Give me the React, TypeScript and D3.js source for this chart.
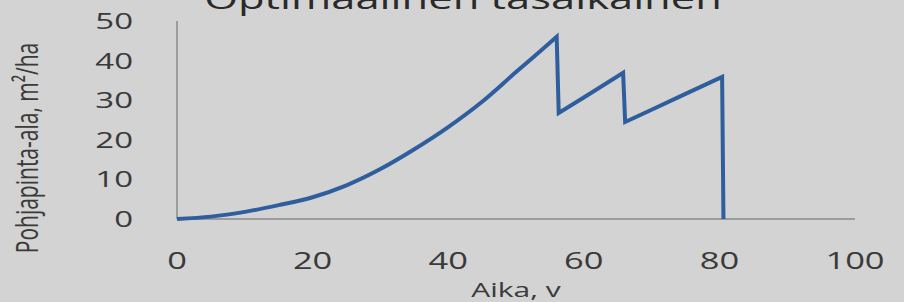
import React, { useEffect, useRef } from 'react';
import * as d3 from 'd3';

// basal area over stand age
const ages = [0, 5, 10, 15, 20, 25, 30, 35, 40, 45, 50, 55, 56, 56.3, 60, 65.8, 66.1, 70, 75, 80.4, 80.6];
const basalArea = [0, 0.6, 1.8, 3.5, 5.5, 8.5, 12.6, 17.6, 23.2, 29.6, 37.1, 44.5, 46, 26.8, 30.7, 36.9, 24.5, 27.6, 31.6, 35.9, 0];
// index of the first thinning (end of the smooth growth curve)
const firstCut = 12;

const xTicks = [0, 20, 40, 60, 80, 100];
const yTicks = [0, 10, 20, 30, 40, 50];

const title = 'Optimaalinen tasaikäinen';
const xTitle = 'Aika, v';
const yTitle = 'Pohjapinta-ala, m²/ha';

const W = 904;
const H = 302;
const STRETCH = 1.5;

export default function App() {
  const ref = useRef<SVGSVGElement>(null);

  useEffect(() => {
    const svg = d3.select(ref.current);
    svg.selectAll('*').remove();

    const x = d3.scaleLinear().domain([0, 100]).range([177, 855]);
    const y = d3.scaleLinear().domain([0, 50]).range([219, 21]);

    svg.append('rect').attr('width', W).attr('height', H).attr('fill', '#d3d3d3');

    const font = "'Open Sans', sans-serif";
    const textColor = '#3a3a3a';

    // axes lines
    svg.append('line')
      .attr('x1', x(0)).attr('x2', x(0))
      .attr('y1', y(50)).attr('y2', y(0))
      .attr('stroke', '#8a8a8a').attr('stroke-width', 1.5);
    svg.append('line')
      .attr('x1', x(0)).attr('x2', x(100))
      .attr('y1', y(0)).attr('y2', y(0))
      .attr('stroke', '#8a8a8a').attr('stroke-width', 1.5);

    // y tick labels
    svg.selectAll('.ytick')
      .data(yTicks)
      .enter()
      .append('text')
      .attr('class', 'ytick')
      .attr('transform', d => `translate(${x(0) - 44},${y(d) + 8}) scale(${STRETCH},1)`)
      .attr('text-anchor', 'end')
      .attr('font-family', font)
      .attr('font-size', 22)
      .attr('fill', textColor)
      .text(d => d);

    // x tick labels
    svg.selectAll('.xtick')
      .data(xTicks)
      .enter()
      .append('text')
      .attr('class', 'xtick')
      .attr('transform', d => `translate(${x(d)},${269}) scale(${STRETCH},1)`)
      .attr('text-anchor', 'middle')
      .attr('font-family', font)
      .attr('font-size', 23)
      .attr('fill', textColor)
      .text(d => d);

    svg.append('text')
      .attr('transform', `translate(516,297) scale(${STRETCH},1)`)
      .attr('text-anchor', 'middle')
      .attr('font-family', font)
      .attr('font-size', 20)
      .attr('fill', textColor)
      .text(xTitle);

    svg.append('text')
      .attr('transform', `translate(38,148) rotate(-90) scale(1,${STRETCH})`)
      .attr('text-anchor', 'middle')
      .attr('font-family', font)
      .attr('font-size', 21)
      .attr('fill', textColor)
      .text(yTitle);

    // title is cut off by the top edge in the original as well
    svg.append('text')
      .attr('transform', `translate(463,9) scale(${STRETCH},1)`)
      .attr('text-anchor', 'middle')
      .attr('font-family', font)
      .attr('font-size', 29)
      .attr('fill', '#2a2a2a')
      .text(title);

    const pts: [number, number][] = ages.map((a, i) => [x(a), y(basalArea[i])]);

    // smooth growth, then straight thinning saw-teeth
    const growth = d3.line().curve(d3.curveMonotoneX)(pts.slice(0, firstCut + 1)) || '';
    const rest = pts.slice(firstCut + 1).map(p => `L${p[0]},${p[1]}`).join('');

    svg.append('path')
      .attr('d', growth + rest)
      .attr('fill', 'none')
      .attr('stroke', '#2f5e9e')
      .attr('stroke-width', 4)
      .attr('stroke-linejoin', 'miter');
  }, []);

  return (
    <svg ref={ref} width={W} height={H} style={{ position: 'absolute', left: 0, top: 0, display: 'block' }} />
  );
}
